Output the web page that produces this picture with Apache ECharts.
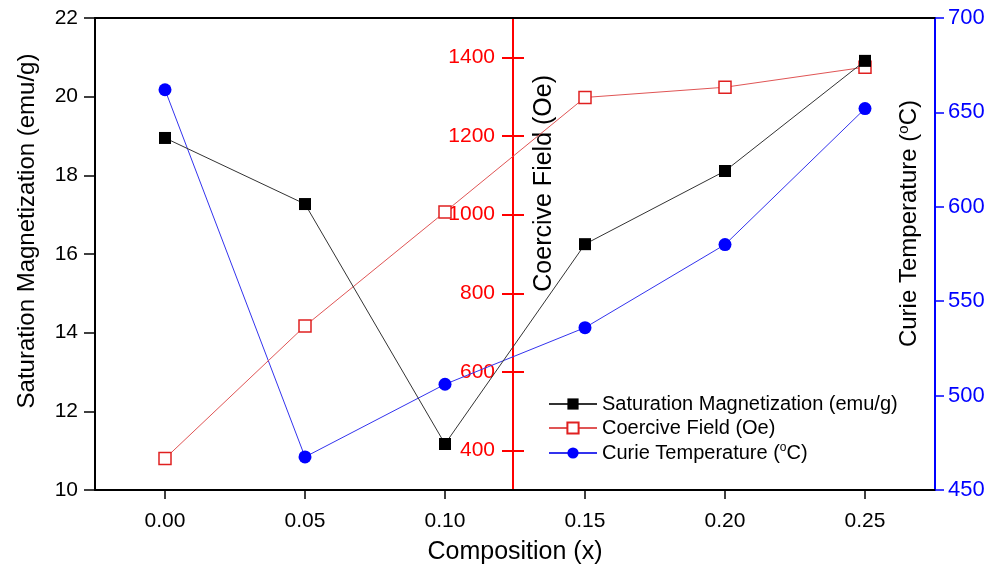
<!DOCTYPE html>
<html><head><meta charset="utf-8">
<script src="https://cdn.jsdelivr.net/npm/echarts@6/dist/echarts.min.js"></script>
<style>html,body{margin:0;padding:0;background:#fff}#c{width:1003px;height:571px}</style>
</head><body><div id="c"></div>
<script>
const composition = [0.00, 0.05, 0.10, 0.15, 0.20, 0.25];
const satMag = [18.95, 17.27, 11.17, 16.25, 18.11, 20.91];
const coercive = [380, 717, 1007, 1298, 1324, 1375];
const curie = [662, 467.5, 506, 536, 580, 652];
const xTicks = [0.00, 0.05, 0.10, 0.15, 0.20, 0.25];
const redTicks = [400, 600, 800, 1000, 1200, 1400];

const pairs = ys => composition.map((x, i) => [x, ys[i]]);
const FONT = 'Liberation Sans, Arial, sans-serif';
const chart = echarts.init(document.getElementById('c'));
const RED = '#ff0000', BLUE = '#0000ff';
chart.setOption({
  animation: false,
  backgroundColor: '#fff',
  textStyle: {fontFamily: FONT},
  grid: {left: 95, right: 68, top: 18, bottom: 81, containLabel: false, outerBoundsMode: 'none'},
  xAxis: [{
    type: 'value', min: -0.025, max: 0.275, position: 'bottom',
    name: 'Composition (x)', nameLocation: 'middle', nameGap: 50,
    nameTextStyle: {fontSize: 25, color: '#000', fontFamily: FONT},
    axisLine: {onZero: false, lineStyle: {color: '#000', width: 2}},
    axisTick: {show: true, customValues: xTicks, length: 9, lineStyle: {color: '#000', width: 1.5}},
    axisLabel: {customValues: xTicks, formatter: v => v.toFixed(2), fontSize: 21, color: '#000', margin: 21, fontFamily: FONT},
    splitLine: {show: false}
  }, {
    type: 'value', min: -0.025, max: 0.275, position: 'top',
    axisLine: {onZero: false, lineStyle: {color: '#000', width: 2}},
    axisTick: {show: false}, axisLabel: {show: false}, splitLine: {show: false}
  }],
  yAxis: [{
    type: 'value', min: 10, max: 22, interval: 2, position: 'left',
    name: 'Saturation Magnetization (emu/g)', nameLocation: 'middle', nameGap: 56,
    nameTextStyle: {fontSize: 24, color: '#000', fontFamily: FONT, padding: [0, 0, 0, 46]},
    axisLine: {show: true, onZero: false, lineStyle: {color: '#000', width: 2}},
    axisTick: {show: true, length: 11, lineStyle: {color: '#000', width: 1.5}},
    axisLabel: {fontSize: 21, color: '#000', margin: 17, fontFamily: FONT},
    splitLine: {show: false}
  }, {
    type: 'value', min: 300, max: 1500, position: 'left', offset: -418,
    axisLine: {show: true, onZero: false, lineStyle: {color: RED, width: 2}},
    axisTick: {show: true, customValues: redTicks, length: 11, lineStyle: {color: RED, width: 2}},
    axisLabel: {customValues: redTicks, formatter: v => String(v), fontSize: 21, color: RED, margin: 18, fontFamily: FONT},
    splitLine: {show: false}
  }, {
    type: 'value', min: 300, max: 1500, position: 'left', offset: -418,
    axisLine: {show: false, onZero: false},
    axisTick: {show: true, inside: true, customValues: redTicks, length: 11, lineStyle: {color: RED, width: 2}},
    axisLabel: {show: false}, splitLine: {show: false}
  }, {
    type: 'value', min: 450, max: 700, interval: 50, position: 'right',
    axisLine: {show: true, onZero: false, lineStyle: {color: BLUE, width: 2}},
    axisTick: {show: true, length: 9, lineStyle: {color: BLUE, width: 1.5}},
    axisLabel: {fontSize: 22, color: BLUE, margin: 13, fontFamily: FONT},
    splitLine: {show: false}
  }],
  legend: {
    orient: 'vertical', left: 543, top: 389, itemGap: 4, itemWidth: 48, itemHeight: 14,
    textStyle: {fontSize: 20, color: '#000', fontFamily: FONT,
      rich: {sup: {fontSize: 12, fontFamily: FONT, padding: [0, 0, 10, 0]}, t: {fontSize: 20, fontFamily: FONT}}},
    formatter: n => n.indexOf('°') >= 0 ? '{t|Curie Temperature (}{sup|o}{t|C)}' : n,
    data: ['Saturation Magnetization (emu/g)', 'Coercive Field (Oe)', 'Curie Temperature (°C)']
  },
  graphic: [{
    type: 'text', left: 532, top: 75, rotation: Math.PI / 2,
    style: {text: 'Coercive Field (Oe)', fill: '#000', font: '25px ' + FONT}
  }, {
    type: 'text', left: 896, top: 100, rotation: Math.PI / 2,
    style: {
      text: '{t|Curie Temperature (}{sup|o}{t|C)}',
      rich: {t: {fontSize: 24, fontFamily: FONT, fill: '#000'}, sup: {fontSize: 15, fontFamily: FONT, fill: '#000', padding: [0, 0, 12, 0]}}
    }
  }],
  series: [{
    name: 'Saturation Magnetization (emu/g)', type: 'line', xAxisIndex: 0, yAxisIndex: 0,
    data: pairs(satMag), symbol: 'rect', symbolSize: 12,
    lineStyle: {color: '#333', width: 1}, itemStyle: {color: '#000'}, z: 5
  }, {
    name: 'Coercive Field (Oe)', type: 'line', xAxisIndex: 0, yAxisIndex: 1,
    data: pairs(coercive), symbol: 'rect', symbolSize: 12,
    lineStyle: {color: '#e05555', width: 1}, itemStyle: {color: '#fff', borderColor: '#e02020', borderWidth: 1.5}, z: 4
  }, {
    name: 'Curie Temperature (°C)', type: 'line', xAxisIndex: 0, yAxisIndex: 3,
    data: pairs(curie), symbol: 'circle', symbolSize: 13,
    lineStyle: {color: '#3333ee', width: 1}, itemStyle: {color: BLUE}, z: 3
  }]
});
</script></body></html>
